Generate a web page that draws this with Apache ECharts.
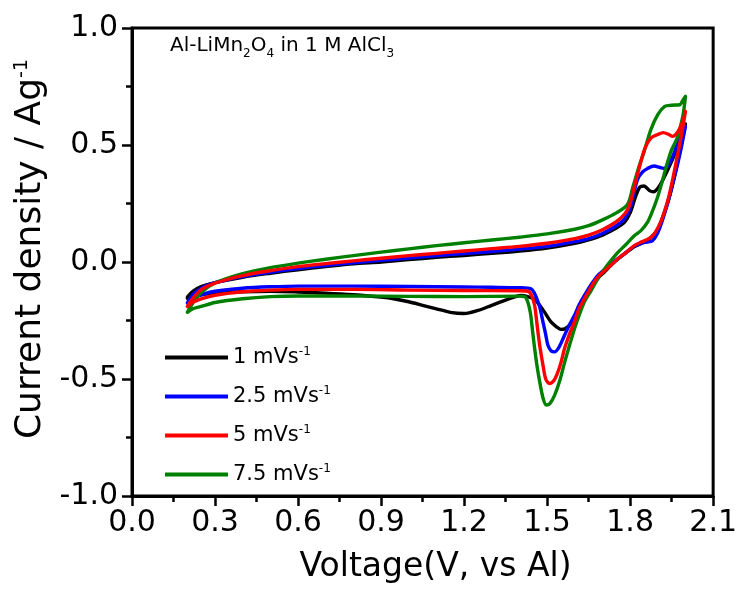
<!DOCTYPE html>
<html>
<head>
<meta charset="utf-8">
<script src="https://cdn.jsdelivr.net/npm/echarts@6/dist/echarts.min.js"></script>
<style>
  html, body { margin: 0; padding: 0; background: #fff; }
  #chart { width: 740px; height: 589px; }
</style>
</head>
<body>
<div id="chart"></div>
<script>
// Cyclic voltammograms of Al-LiMn2O4 in 1 M AlCl3 at four scan rates.
// Each loop: anodic sweep 0.2 -> 2.0 V, then cathodic sweep 2.0 -> 0.2 V.
const scanRates = ['1', '2.5', '5', '7.5'];
const colors = ['#000000', '#0000ff', '#ff0000', '#008000'];

const xTicks = ['0.0', '0.3', '0.6', '0.9', '1.2', '1.5', '1.8', '2.1'];
const yTicks = ['-1.0', '-0.5', '0.0', '0.5', '1.0'];

// 1 mV/s
const anodic1 = [[0.2,-0.15],[0.22,-0.125],[0.25,-0.105],[0.3,-0.088],[0.4,-0.065],[0.5,-0.048],[0.6,-0.033],[0.7,-0.02],[0.8,-0.008],[0.9,0.0],[1.0,0.01],[1.1,0.02],[1.2,0.028],[1.3,0.037],[1.4,0.047],[1.5,0.06],[1.6,0.08],[1.65,0.095],[1.7,0.115],[1.75,0.145],[1.78,0.17],[1.8,0.21],[1.82,0.28],[1.835,0.32],[1.85,0.325],[1.87,0.305],[1.885,0.3],[1.9,0.315],[1.92,0.355],[1.95,0.43],[1.98,0.52],[2.0,0.59]];
const cathodic1 = [[2.0,0.59],[1.985,0.5],[1.97,0.42],[1.958,0.353],[1.94,0.27],[1.923,0.21],[1.9,0.14],[1.875,0.105],[1.85,0.085],[1.815,0.065],[1.785,0.04],[1.755,0.012],[1.73,-0.015],[1.707,-0.043],[1.683,-0.07],[1.66,-0.115],[1.635,-0.157],[1.611,-0.213],[1.586,-0.264],[1.565,-0.285],[1.55,-0.288],[1.535,-0.278],[1.514,-0.256],[1.49,-0.213],[1.47,-0.18],[1.455,-0.16],[1.43,-0.148],[1.406,-0.143],[1.38,-0.15],[1.35,-0.163],[1.3,-0.185],[1.25,-0.207],[1.2,-0.22],[1.15,-0.215],[1.1,-0.2],[1.05,-0.185],[1.0,-0.17],[0.95,-0.158],[0.9,-0.15],[0.8,-0.14],[0.7,-0.133],[0.6,-0.128],[0.5,-0.125],[0.4,-0.127],[0.3,-0.133],[0.25,-0.14],[0.2,-0.155]];

// 2.5 mV/s
const anodic2 = [[0.2,-0.175],[0.22,-0.14],[0.25,-0.112],[0.3,-0.088],[0.4,-0.062],[0.5,-0.044],[0.6,-0.028],[0.7,-0.015],[0.8,-0.003],[0.9,0.007],[1.0,0.017],[1.1,0.027],[1.2,0.036],[1.3,0.045],[1.4,0.055],[1.5,0.067],[1.6,0.087],[1.65,0.1],[1.7,0.122],[1.75,0.155],[1.78,0.185],[1.8,0.23],[1.815,0.3],[1.827,0.353],[1.845,0.385],[1.863,0.4],[1.887,0.41],[1.905,0.405],[1.92,0.4],[1.935,0.41],[1.95,0.44],[1.97,0.5],[2.0,0.58]];
const cathodic2 = [[2.0,0.58],[1.985,0.49],[1.97,0.41],[1.955,0.34],[1.94,0.27],[1.92,0.19],[1.9,0.125],[1.88,0.09],[1.86,0.085],[1.84,0.08],[1.815,0.068],[1.785,0.04],[1.755,0.013],[1.72,-0.02],[1.683,-0.058],[1.66,-0.095],[1.635,-0.143],[1.615,-0.185],[1.599,-0.228],[1.58,-0.27],[1.563,-0.313],[1.545,-0.36],[1.527,-0.384],[1.515,-0.38],[1.503,-0.356],[1.495,-0.31],[1.485,-0.256],[1.475,-0.2],[1.467,-0.17],[1.455,-0.135],[1.442,-0.115],[1.4,-0.11],[1.3,-0.108],[1.2,-0.107],[1.0,-0.105],[0.8,-0.103],[0.6,-0.103],[0.5,-0.106],[0.4,-0.112],[0.3,-0.125],[0.25,-0.14],[0.22,-0.155],[0.2,-0.175]];

// 5 mV/s
const anodic3 = [[0.2,-0.19],[0.22,-0.155],[0.25,-0.118],[0.3,-0.09],[0.4,-0.058],[0.5,-0.037],[0.6,-0.02],[0.7,-0.007],[0.8,0.005],[0.9,0.016],[1.0,0.027],[1.1,0.037],[1.2,0.047],[1.3,0.057],[1.4,0.067],[1.5,0.08],[1.6,0.1],[1.65,0.115],[1.7,0.138],[1.75,0.172],[1.78,0.205],[1.797,0.24],[1.815,0.32],[1.838,0.425],[1.855,0.49],[1.875,0.53],[1.9,0.545],[1.92,0.553],[1.94,0.545],[1.953,0.537],[1.965,0.545],[1.977,0.566],[1.99,0.6],[2.0,0.644]];
const cathodic3 = [[2.0,0.644],[1.985,0.54],[1.97,0.45],[1.955,0.36],[1.94,0.28],[1.92,0.2],[1.9,0.145],[1.88,0.11],[1.86,0.095],[1.84,0.085],[1.815,0.07],[1.785,0.04],[1.755,0.013],[1.72,-0.025],[1.683,-0.065],[1.66,-0.105],[1.635,-0.157],[1.615,-0.2],[1.599,-0.256],[1.58,-0.31],[1.563,-0.37],[1.55,-0.43],[1.539,-0.47],[1.525,-0.505],[1.509,-0.519],[1.495,-0.5],[1.485,-0.44],[1.475,-0.37],[1.467,-0.3],[1.46,-0.23],[1.455,-0.186],[1.445,-0.145],[1.431,-0.125],[1.4,-0.123],[1.2,-0.122],[1.0,-0.12],[0.8,-0.117],[0.6,-0.117],[0.5,-0.12],[0.4,-0.127],[0.3,-0.142],[0.25,-0.158],[0.22,-0.172],[0.2,-0.19]];

// 7.5 mV/s
const anodic4 = [[0.2,-0.215],[0.22,-0.175],[0.25,-0.13],[0.3,-0.09],[0.4,-0.05],[0.5,-0.024],[0.6,-0.005],[0.7,0.012],[0.8,0.027],[0.9,0.042],[1.0,0.056],[1.1,0.07],[1.2,0.082],[1.3,0.094],[1.4,0.106],[1.5,0.12],[1.6,0.14],[1.65,0.155],[1.7,0.18],[1.75,0.21],[1.79,0.245],[1.81,0.32],[1.83,0.4],[1.85,0.47],[1.875,0.566],[1.9,0.63],[1.925,0.665],[1.95,0.67],[1.98,0.672],[1.99,0.69],[2.0,0.708]];
const cathodic4 = [[2.0,0.708],[1.99,0.62],[1.97,0.53],[1.95,0.48],[1.935,0.425],[1.915,0.34],[1.9,0.28],[1.88,0.215],[1.863,0.17],[1.84,0.135],[1.815,0.112],[1.785,0.075],[1.755,0.04],[1.72,-0.01],[1.683,-0.072],[1.66,-0.12],[1.635,-0.17],[1.615,-0.23],[1.599,-0.285],[1.58,-0.36],[1.563,-0.43],[1.545,-0.51],[1.527,-0.57],[1.51,-0.605],[1.497,-0.611],[1.485,-0.58],[1.473,-0.51],[1.463,-0.44],[1.455,-0.37],[1.447,-0.29],[1.44,-0.22],[1.43,-0.17],[1.419,-0.148],[1.4,-0.146],[1.2,-0.148],[1.0,-0.147],[0.8,-0.145],[0.6,-0.145],[0.5,-0.148],[0.4,-0.157],[0.3,-0.173],[0.25,-0.19],[0.22,-0.2],[0.2,-0.215]];

const loops = [
  anodic1.concat(cathodic1),
  anodic2.concat(cathodic2),
  anodic3.concat(cathodic3),
  anodic4.concat(cathodic4)
];

const FONT = '"DejaVu Sans", "Liberation Sans", Arial, sans-serif';
const names = scanRates.map(r => r + ' mVs-1');

const chart = echarts.init(document.getElementById('chart'), null, { renderer: 'canvas' });

// draw order: black, blue, green, red on top
const drawOrder = [0, 1, 3, 2];

chart.setOption({
  animation: false,
  backgroundColor: '#ffffff',
  grid: {
    left: 132, right: 24, top: 28, bottom: 91,
    show: true, borderColor: '#000', borderWidth: 3, backgroundColor: 'transparent'
  },
  title: {
    left: 165, top: 27,
    text: '{a|Al-LiMn}{s|2}{a|O}{s|4}{a| in 1 M AlCl}{s|3}',
    textStyle: {
      fontWeight: 'normal',
      rich: {
        a: { fontFamily: FONT, fontSize: 20, fontWeight: 'normal', color: '#000', lineHeight: 28 },
        s: { fontFamily: FONT, fontSize: 12, fontWeight: 'normal', color: '#000', lineHeight: 12, verticalAlign: 'bottom' }
      }
    }
  },
  legend: {
    orient: 'vertical',
    left: 160, top: 341,
    itemWidth: 63, itemHeight: 4, itemGap: 16,
    icon: 'rect',
    data: names,
    formatter: n => n.replace('-1', '') + '{sup|-1}',
    textStyle: {
      fontFamily: FONT, fontSize: 21, color: '#000', lineHeight: 23,
      rich: {
        sup: { fontFamily: FONT, fontSize: 12, color: '#000', verticalAlign: 'top', lineHeight: 12 }
      }
    }
  },
  xAxis: {
    type: 'value', min: 0, max: 2.1, interval: 0.3,
    name: 'Voltage(V, vs Al)', nameLocation: 'middle', nameGap: 55,
    nameTextStyle: { fontFamily: FONT, fontSize: 33, color: '#000', padding: [0, 0, 0, 26] },
    axisLine: { show: true, onZero: false, lineStyle: { color: '#000', width: 3 } },
    axisTick: { show: true, inside: false, length: 10, lineStyle: { color: '#000', width: 2.5 } },
    minorTick: { show: true, splitNumber: 2, length: 6, lineStyle: { color: '#000', width: 2.5 } },
    splitLine: { show: false },
    axisLabel: {
      fontFamily: FONT, fontSize: 30, color: '#000', margin: 12,
      formatter: v => xTicks[Math.round(v / 0.3)]
    }
  },
  yAxis: {
    type: 'value', min: -1, max: 1, interval: 0.5,
    name: 'Current density / Ag{sup|-1}', nameLocation: 'middle', nameGap: 83, nameRotate: 90,
    nameTextStyle: {
      fontFamily: FONT, fontSize: 36, color: '#000', padding: [0, 0, 0, 26],
      rich: { sup: { fontFamily: FONT, fontSize: 19, color: '#000', verticalAlign: 'top', lineHeight: 16 } }
    },
    axisLine: { show: true, onZero: false, lineStyle: { color: '#000', width: 3 } },
    axisTick: { show: true, inside: false, length: 10, lineStyle: { color: '#000', width: 2.5 } },
    minorTick: { show: true, splitNumber: 2, length: 6, lineStyle: { color: '#000', width: 2.5 } },
    splitLine: { show: false },
    axisLabel: {
      fontFamily: FONT, fontSize: 30, color: '#000', margin: 14,
      formatter: v => yTicks[Math.round((v + 1) / 0.5)]
    }
  },
  series: drawOrder.map((i, k) => ({
    name: names[i],
    type: 'line',
    data: loops[i],
    showSymbol: false,
    symbol: 'none',
    smooth: 0.3,
    z: 2 + k,
    color: colors[i],
    lineStyle: { color: colors[i], width: 3.4, cap: 'round', join: 'round' }
  }))
});
</script>
</body>
</html>
